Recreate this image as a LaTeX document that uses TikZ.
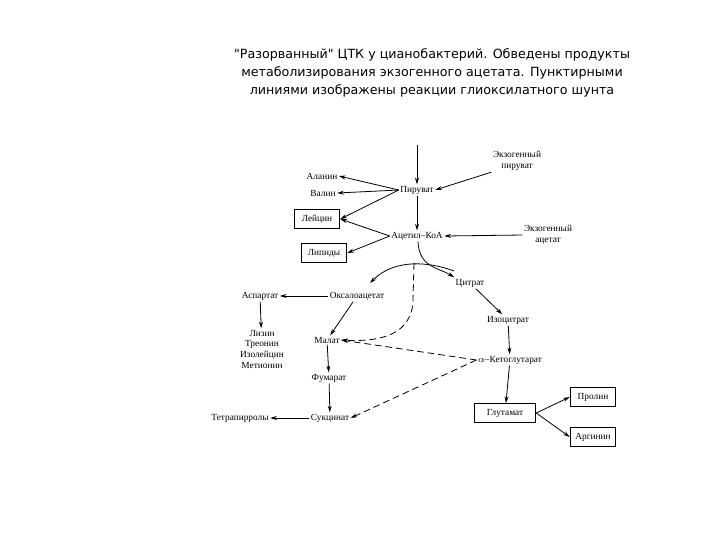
\documentclass[tikz,border=0pt]{standalone}
\usepackage{fontspec}
\setmainfont{Liberation Serif}
\newfontfamily\titlefont{DejaVu Sans}
\usetikzlibrary{arrows.meta}
\begin{document}
\begin{tikzpicture}[x=0.75pt,y=-0.75pt,
  t/.style={font=\fontsize{7}{8}\selectfont, inner sep=1pt},
  bx/.style={t, draw, line width=0.9pt, minimum width=34pt, minimum height=14pt},
  ar/.style={-{Stealth[length=5pt,width=3pt]}, line width=0.6pt},
  da/.style={ar, dashed, dash pattern=on 5pt off 3pt}]
\useasboundingbox (0,0) rectangle (720,540);
\node[font=\titlefont\fontsize{9.5}{13.5}\selectfont, align=center] (title) at (432,73)
 {"Разорванный" ЦТК у цианобактерий. Обведены продукты\\метаболизирования экзогенного ацетата. Пунктирными\\линиями изображены реакции глиоксилатного шунта};
\coordinate (top) at (417,145);
\node[t] (pyr) at (417,190) {Пируват};
\node[t, align=center] (expyr) at (517,161) {Экзогенный\\пируват};
\node[t] (ala) at (322,176) {Аланин};
\node[t] (val) at (323,193) {Валин};
\node[bx] (leu) at (317,219) {Лейцин};
\node[t] (aco) at (417,236) {Ацетил--КоА};
\node[t, align=center] (exac) at (548,235) {Экзогенный\\ацетат};
\node[bx] (lip) at (324,253) {Липиды};
\node[t] (cit) at (470,283) {Цитрат};
\node[t] (oxa) at (357,296) {Оксалоацетат};
\node[t] (asp) at (260,296) {Аспартат};
\node[t, align=center] (lys) at (262,349) {Лизин\\Треонин\\Изолейцин\\Метионин};
\node[t] (mal) at (327,340) {Малат};
\node[t] (fum) at (329,378) {Фумарат};
\node[t] (suc) at (330,418) {Сукцинат};
\node[t] (tet) at (240,418) {Тетрапирролы};
\node[t] (iso) at (508,320) {Изоцитрат};
\node[t] (akg) at (510,360) {$\alpha$--Кетоглутарат};
\node[bx, minimum width=46pt] (glu) at (505,413) {Глутамат};
\node[bx] (pro) at (593,397) {Пролин};
\node[bx] (arg) at (593,437) {Аргинин};
\coordinate (br) at (414,263);
\draw[ar] (top) -- (pyr);
\draw[ar] (expyr.south west) -- (pyr.east);
\draw[ar] (pyr.west) -- (ala.east);
\draw[ar] (pyr.west) -- (val.east);
\draw[ar] (pyr.west) -- (leu.east);
\draw[ar] (pyr) -- (aco);
\draw[ar] (exac.west) -- (aco.east);
\draw[ar] (aco.west) -- (leu.east);
\draw[ar] (aco.west) -- (lip.east);
\draw[ar] (aco.south) ++(1,0) coordinate (a1) (a1) .. controls (419,268) and (440,268) .. (cit.north west);
\draw[ar] (br) ++(40,8) .. controls (430,262) and (395,258) .. (370,283);
\draw[da] (br) -- (413,300) .. controls (412,335) and (380,342) .. (mal.east);
\draw[ar] (oxa.west) -- (asp.east);
\draw[ar] (asp) -- (lys);
\draw[ar] (oxa) -- (mal);
\draw[ar] (mal) -- (fum);
\draw[ar] (fum) -- (suc);
\draw[ar] (suc) -- (tet);
\draw[ar] (cit) -- (iso);
\draw[ar] (iso) -- (akg);
\draw[da] (akg.west) -- (mal.east);
\draw[da] (akg.west) -- (suc.east);
\draw[ar] (akg) -- (glu);
\draw[ar] (glu.east) -- (pro.west);
\draw[ar] (glu.east) -- (arg.west);
\end{tikzpicture}
\end{document}
